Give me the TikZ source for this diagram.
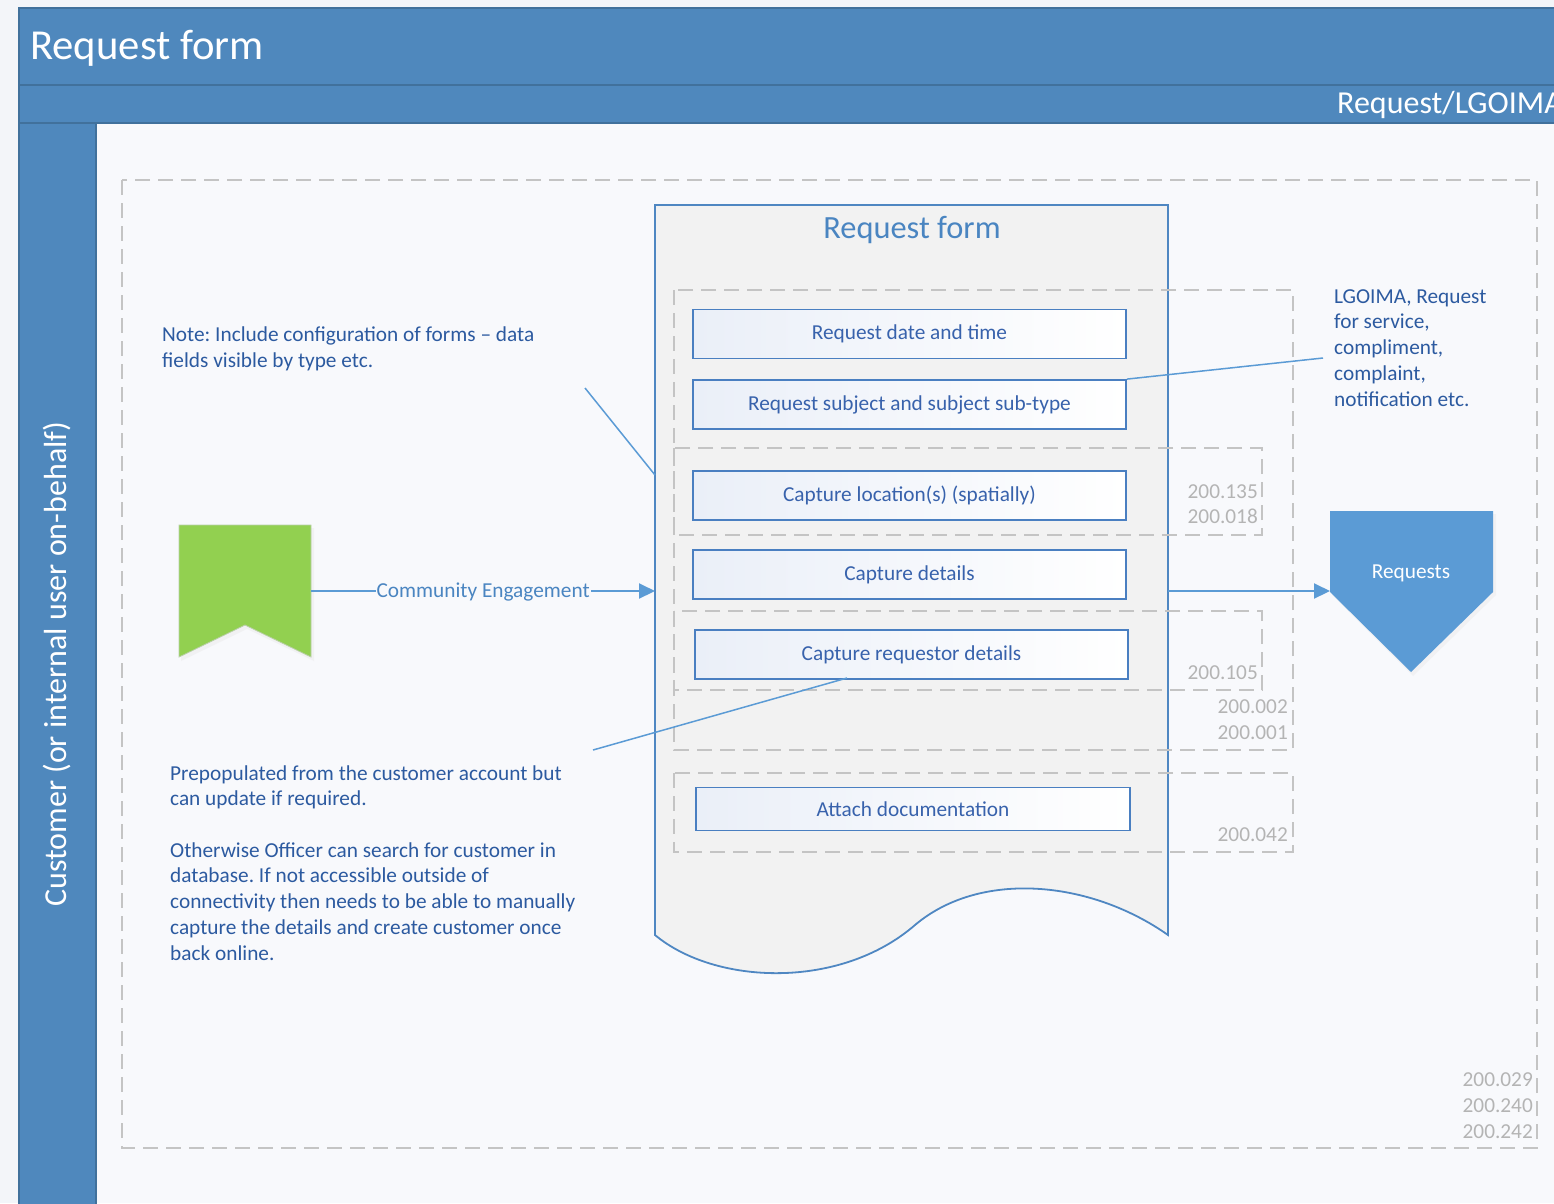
\documentclass[tikz,border=0pt]{standalone}
\usepackage{fontspec}
\setmainfont{Carlito}
\usetikzlibrary{arrows.meta}
\definecolor{pagebg}{HTML}{F3F5F9}
\definecolor{lanebg}{HTML}{F8F9FC}
\definecolor{hdr}{HTML}{4F88BD}
\definecolor{hdrline}{HTML}{41719C}
\definecolor{docfill}{HTML}{F2F2F2}
\definecolor{docline}{HTML}{4F87C2}
\definecolor{fieldline}{HTML}{4A7FC1}
\definecolor{fieldL}{HTML}{EAEFF8}
\definecolor{fieldtext}{HTML}{3862AC}
\definecolor{notec}{HTML}{2C5AA0}
\definecolor{dashgray}{HTML}{C4C4C4}
\definecolor{numgray}{HTML}{B4B4B4}
\definecolor{arrowc}{HTML}{5B9BD5}
\definecolor{greenc}{HTML}{92D050}
\definecolor{greenedge}{HTML}{B9CFA8}
\definecolor{titleblue}{HTML}{4A85C1}
\begin{document}
\frenchspacing
\begin{tikzpicture}[x=1pt,y=-1pt,
  hdrband/.style={fill=hdr, draw=hdrline, line width=1.5pt},
  field/.style={draw=fieldline, line width=1.8pt, left color=fieldL, right color=white,
    minimum width=433pt, minimum height=49pt, inner sep=0pt, text=fieldtext,
    font=\fontsize{21.3}{25}\selectfont},
  dbox/.style={draw=dashgray, line width=1.5pt, dash pattern=on 15pt off 8pt},
  num/.style={text=numgray, font=\fontsize{21.3}{25.7}\selectfont, anchor=base east, inner sep=0pt},
  note/.style={text=notec, font=\fontsize{21.3}{25.7}\selectfont, align=left, anchor=base west, inner sep=0pt},
  conn/.style={draw=arrowc, line width=1.5pt},
  arr/.style={draw=arrowc, line width=2pt, -{Triangle[length=16pt,width=15pt]}},
  docstyle/.style={fill=docfill, draw=docline, line width=1.8pt}
]
\useasboundingbox (0,0) rectangle (1554,1203);
\clip (0,0) rectangle (1554,1203);
% backgrounds
\fill[pagebg] (0,0) rectangle (1554,1203);
\fill[lanebg] (96,123) rectangle (1554,1203);
% header bands and lane
\draw[hdrband] (19,8) rectangle (1560,85);
\draw[hdrband] (19,85) rectangle (1560,123);
\draw[hdrband] (19,123) rectangle (96,1210);
\node[anchor=base west, text=white, font=\fontsize{42.7}{50}\selectfont, inner sep=0pt] (title) at (30,59) {Request form};
\node[anchor=base west, text=white, font=\fontsize{32}{38}\selectfont, inner sep=0pt] (subtitle) at (1337,113) {Request/LGOIMA};
\node[rotate=90, text=white, font=\fontsize{32}{38}\selectfont, inner sep=0pt] (lane) at (57,664) {Customer (or internal user on-behalf)};
% outer dashed container
\draw[dbox] (122,180) rectangle (1537,1148);
% document shape
\draw[docstyle] (655,205) -- (1168,205) -- (1168,935)
  .. controls (1090,880) and (980,870) .. (915,925)
  .. controls (840,990) and (715,985) .. (655,935) -- cycle;
\node[text=titleblue, font=\fontsize{32.4}{38}\selectfont, inner sep=0pt] (doctitle) at (912,230) {Request form};
% dashed groups
\draw[dbox] (674,290) rectangle (1293,750);
\draw[dbox] (674,448) rectangle (1262,535);
\draw[dbox] (674,611) rectangle (1262,690);
\draw[dbox] (674,773) rectangle (1293,852);
% fields
\node[field] (f1) at (909.5,334) {Request date and time};
\node[field] (f2) at (909.5,404.5) {Request subject and subject sub-type};
\node[field] (f3) at (909.5,495.5) {Capture location(s) (spatially)};
\node[field] (f4) at (909.5,574.5) {Capture details};
\node[field] (f5) at (911.5,654.5) {Capture requestor details};
\node[field, minimum width=434pt, minimum height=43pt] (f6) at (913,809) {Attach documentation};
% numbers
\node[num] (n1) at (1258,498) {200.135};
\node[num] (n2) at (1258,523) {200.018};
\node[num] (n3) at (1258,679) {200.105};
\node[num] (n4) at (1288,713) {200.002};
\node[num] (n5) at (1288,739) {200.001};
\node[num] (n6) at (1288,841) {200.042};
\node[num] (n7) at (1533,1086) {200.029};
\node[num] (n8) at (1533,1112) {200.240};
\node[num] (n9) at (1533,1138) {200.242};
% green bookmark
\fill[black!8, opacity=0.5] (181,528) -- (314,528) -- (314,661) -- (247,629) -- (181,661) -- cycle;
\draw[fill=greenc, draw=greenedge, line width=0.8pt] (179,525) -- (311,525) -- (311,657) -- (245,625) -- (179,657) -- cycle;
\node[minimum width=132pt, minimum height=132pt, inner sep=0pt] (green) at (245,591) {};
% requests pentagon
\fill[black!8, opacity=0.5] (1332,514) -- (1496,514) -- (1496,595) -- (1413,676) -- (1332,595) -- cycle;
\fill[arrowc] (1330,511) -- (1493,511) -- (1493,592) -- (1411,672) -- (1330,592) -- cycle;
\node[text=white, font=\fontsize{21.3}{25}\selectfont, inner sep=0pt] (req) at (1411,573) {Requests};
% connection points
\coordinate (docW) at (655,591);
\coordinate (docE) at (1168,591);
\coordinate (reqW) at (1330,591);
\coordinate (docN) at (655,475);
\coordinate (noteEnd) at (585,388);
\coordinate (lgEnd) at (1323,358);
\coordinate (f5p) at (847,678);
\coordinate (preEnd) at (593,750);
% connectors
\draw[arr] (green.east) -- node[fill=lanebg, text=titleblue, font=\fontsize{21.3}{25}\selectfont, inner sep=1pt, yshift=-1pt] (celabel) {Community Engagement} (docW);
\draw[arr] (docE) -- (reqW);
\draw[conn] (noteEnd) -- (docN);
\draw[conn] (f2.north east) -- (lgEnd);
\draw[conn] (f5p) -- (preEnd);
% annotation texts
\node[note] (notetext) at (162,367) {Note: Include configuration of forms -- data\\fields visible by type etc.};
\node[note] (lgtext) at (1334,406) {LGOIMA, Request\\for service,\\compliment,\\complaint,\\notification etc.};
\node[note] (pretext) at (170,960) {Prepopulated from the customer account but\\can update if required.\\[25.7pt]Otherwise Officer can search for customer in\\database. If not accessible outside of\\connectivity then needs to be able to manually\\capture the details and create customer once\\back online.};
\end{tikzpicture}
\end{document}
